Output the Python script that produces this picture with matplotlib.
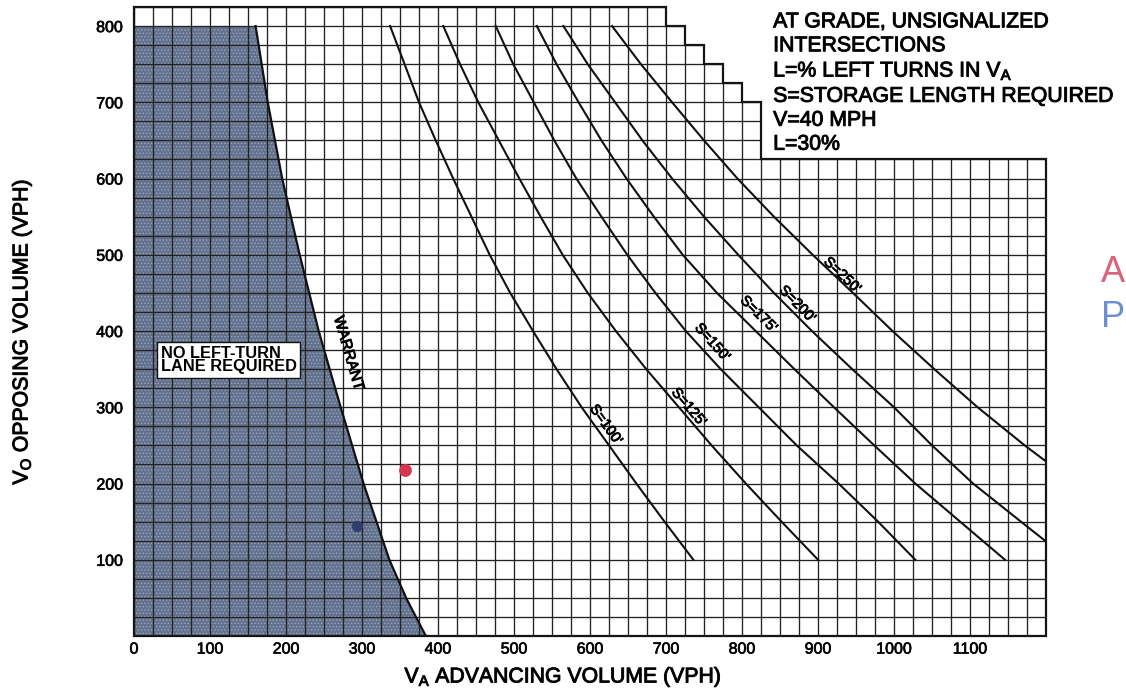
import numpy as np
import matplotlib
matplotlib.use("Agg")
from matplotlib import pyplot as plt
from matplotlib import patheffects
from matplotlib.patches import Polygon
from matplotlib.ticker import FixedLocator, MultipleLocator

plt.rcParams['font.family'] = ['Liberation Sans', 'DejaVu Sans']
plt.rcParams['mathtext.default'] = 'regular'
plt.rcParams['hatch.linewidth'] = 0.6

# left-turn warrant line (advancing volume vs opposing volume)
warrant_va = [160, 176, 195, 218, 243, 272, 302, 336, 358, 384]
warrant_vo = [800, 700, 600, 500, 400, 300, 200, 100, 50, 0]

# storage length curves
vo_full = [800, 750, 700, 650, 600, 550, 500, 450, 400, 350, 300, 250, 200, 150, 100]
s100_va = [337, 356, 375, 397, 420, 444, 468, 495, 525, 556, 589, 625, 661, 698, 736]
s125_va = [407, 429, 453, 480, 507, 535, 564, 597, 634, 674, 717, 760, 805, 852, 900]
s150_va = [476, 499, 526, 553, 582, 615, 649, 686, 726, 772, 822, 872, 927, 979, 1028]
s175_va = [530, 556, 585, 615, 648, 684, 722, 767, 818, 869, 921, 974, 1028, 1087, 1146]
s200_vo = [800, 750, 700, 650, 600, 550, 500, 450, 400, 350, 300, 250, 200, 150, 124]
s200_va = [565, 597, 633, 669, 708, 750, 795, 842, 892, 945, 1000, 1050, 1104, 1167, 1200]
s250_vo = [800, 750, 700, 650, 600, 550, 500, 450, 400, 350, 300, 250, 229]
s250_va = [629, 667, 708, 750, 794, 842, 893, 946, 998, 1053, 1110, 1172, 1200]

curve_names = ["S=100'", "S=125'", "S=150'", "S=175'", "S=200'", "S=250'"]
curve_va = [s100_va, s125_va, s150_va, s175_va, s200_va, s250_va]
curve_vo = [vo_full, vo_full, vo_full, vo_full, s200_vo, s250_vo]
label_va = [621, 730, 761, 822, 873, 932]
label_vo = [277, 300, 385, 422, 435, 473]

# hand-marked counts
am_point = (357, 218)
pm_point = (293, 144)

# stepped outline of the grid paper
step_va = [0, 700, 725, 750, 775, 800, 825, 1200]
step_top = [825, 800, 775, 750, 725, 700, 625]

notes = ["AT GRADE, UNSIGNALIZED", "INTERSECTIONS", "L=% LEFT TURNS IN $V_A$",
         "S=STORAGE LENGTH REQUIRED", "V=40 MPH", "L=30%"]

ink = [patheffects.withStroke(linewidth=0.7, foreground='#111111')]

fig = plt.figure(figsize=(11.26, 6.94), dpi=100)
ax = fig.add_axes([134 / 1126, 58 / 694, 912 / 1126, 629 / 694])
ax.set_xlim(0, 1200)
ax.set_ylim(0, 825)
for sp in ax.spines.values():
    sp.set_visible(False)

verts = [(0, 0)]
for i, top in enumerate(step_top):
    verts += [(step_va[i], top), (step_va[i + 1], top)]
verts.append((step_va[-1], 0))
region = Polygon(verts, closed=True, fill=False, ec='#151515', lw=1.6,
                 zorder=4, clip_on=False, joinstyle='miter')
ax.add_patch(region)

# shaded "no left-turn lane" area
ax.fill_betweenx(warrant_vo, 0, warrant_va, facecolor='#62718e',
                 edgecolor='#9ba6bb', hatch='.....', lw=0, zorder=1)

ax.xaxis.set_major_locator(FixedLocator(range(0, 1101, 100)))
ax.yaxis.set_major_locator(FixedLocator(range(100, 801, 100)))
ax.xaxis.set_minor_locator(MultipleLocator(25))
ax.yaxis.set_minor_locator(MultipleLocator(25))
ax.grid(which='both', color='#222222', lw=0.95)
ax.tick_params(which='both', length=0)
ax.tick_params(axis='x', pad=4, labelsize=11.5)
ax.tick_params(axis='y', pad=8, labelsize=11.5)
for axis in (ax.xaxis, ax.yaxis):
    for t in axis.get_major_ticks() + axis.get_minor_ticks():
        t.gridline.set_clip_path(region)
for lab in ax.get_xticklabels() + ax.get_yticklabels():
    lab.set_path_effects([patheffects.withStroke(linewidth=0.5, foreground='#111111')])

ax.plot(warrant_va, warrant_vo, color='#111111', lw=1.6, zorder=3)
for va, vo in zip(curve_va, curve_vo):
    ax.plot(va, vo, color='#111111', lw=1.5, zorder=3)

for name, va, vo, lx, ly in zip(curve_names, curve_va, curve_vo, label_va, label_vo):
    xs = np.array(va[::-1], float)
    ys = np.array(vo[::-1], float)
    p1 = ax.transData.transform((np.interp(ly + 25, ys, xs), ly + 25))
    p2 = ax.transData.transform((np.interp(ly - 25, ys, xs), ly - 25))
    ang = np.degrees(np.arctan2(p2[1] - p1[1], p2[0] - p1[0]))
    ax.text(lx, ly, name, rotation=ang, rotation_mode='anchor', ha='center',
            va='center', fontsize=10.5, zorder=5, path_effects=ink)

wx = np.array(warrant_va[::-1], float)
wy = np.array(warrant_vo[::-1], float)
q1 = ax.transData.transform((np.interp(400, wy, wx), 400))
q2 = ax.transData.transform((np.interp(330, wy, wx), 330))
wang = np.degrees(np.arctan2(q2[1] - q1[1], q2[0] - q1[0]))
ax.text(282, 371, "WARRANT", rotation=wang, rotation_mode='anchor', ha='center',
        va='center', fontsize=11, zorder=5, path_effects=ink)

ax.text(35, 362, "NO LEFT-TURN\nLANE REQUIRED", fontsize=11.8, fontweight='bold',
        ha='left', va='center', linespacing=0.9, zorder=5,
        bbox=dict(boxstyle='square,pad=0.22', fc='white', ec='#111111', lw=1.0))

ax.text(841, 818, "\n".join(notes), ha='left', va='top', fontsize=15.3,
        linespacing=1.33, zorder=5, path_effects=ink)

ax.scatter([am_point[0]], [am_point[1]], s=85, color='#d8354f', zorder=6, lw=0)
ax.scatter([pm_point[0]], [pm_point[1]], s=65, color='#2e3f6e', zorder=6, lw=0)

fig.text(563 / 1126, 0.0165, "$V_A$ ADVANCING VOLUME (VPH)", ha='center', va='baseline',
         fontsize=15.3, path_effects=ink)
fig.text(22 / 1126, 0.522, "$V_O$ OPPOSING VOLUME (VPH)", ha='center', va='center',
         rotation=90, fontsize=15.3, path_effects=ink)

fig.text(1101 / 1126, 0.594, "AM", color='#d9647c', fontsize=26, ha='left', va='baseline')
fig.text(1101 / 1126, 0.529, "PM", color='#6d8fd0', fontsize=26, ha='left', va='baseline')

fig.savefig("out.png", dpi=100)
